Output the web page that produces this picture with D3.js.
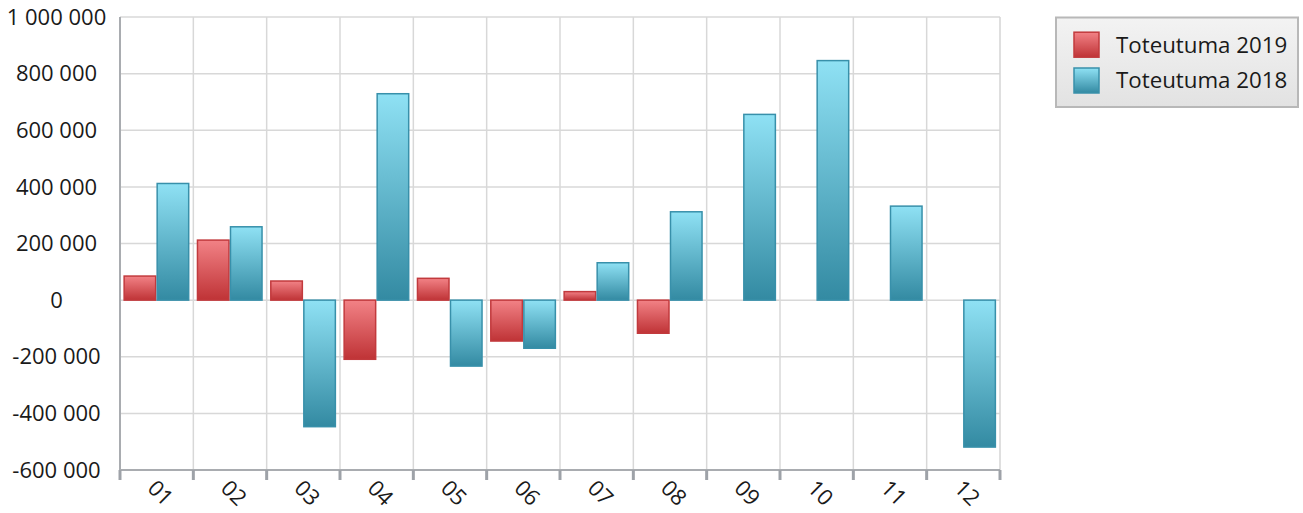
<!DOCTYPE html>
<html><head><meta charset="utf-8">
<script src="https://cdn.jsdelivr.net/npm/d3@7"></script>
<style>
html,body{margin:0;padding:0;background:#fff;}
text{font-family:"Open Sans",sans-serif;fill:#1a1a1a;}
</style></head>
<body>
<svg id="chart" width="1303" height="513"></svg>
<script>
const categories = ["01","02","03","04","05","06","07","08","09","10","11","12"];
const seriesNames = ["Toteutuma 2019","Toteutuma 2018"];
const values2019 = [85000, 212000, 67500, -209000, 77000, -144500, 30000, -117000, null, null, null, null];
const values2018 = [412000, 259000, -447000, 729000, -233000, -170000, 132000, 312000, 656000, 846000, 332000, -519000];
const yTicks = [-600000,-400000,-200000,0,200000,400000,600000,800000,1000000];

const svg = d3.select("#chart");
const m = {left:120, right:1000, top:17, bottom:470};

const defs = svg.append("defs");
function grad(id, c1, c2){
  const g = defs.append("linearGradient").attr("id",id).attr("x1",0).attr("y1",0).attr("x2",0).attr("y2",1);
  g.append("stop").attr("offset","0%").attr("stop-color",c1);
  g.append("stop").attr("offset","100%").attr("stop-color",c2);
}
grad("gRed","#f28286","#bf3336");
grad("gBlue","#8fe1f4","#338aa2");
grad("gLegend","#f3f3f3","#e2e2e2");
const fills = ["url(#gRed)","url(#gBlue)"];
const strokes = ["#c23a3d","#3890aa"];

const x0 = d3.scaleBand().domain(categories).range([m.left, m.right]).paddingInner(0).paddingOuter(0);
const x1 = d3.scaleBand().domain([0,1]).range([0, x0.bandwidth()]).paddingInner(0).paddingOuter(0.11);
const y = d3.scaleLinear().domain([-600000,1000000]).range([m.bottom, m.top]);

const loc = d3.formatLocale({decimal:",", thousands:" ", grouping:[3], currency:["","€"], minus:"-"});
const fmt = loc.format(",d");

// grid
const g = svg.append("g");
g.selectAll("line.h").data(yTicks).join("line")
  .attr("x1",m.left).attr("x2",m.right)
  .attr("y1",d=>y(d)).attr("y2",d=>y(d))
  .attr("stroke","#d8d8d8").attr("stroke-width",1.5);
g.selectAll("line.v").data(categories.slice(1)).join("line")
  .attr("x1",d=>x0(d)).attr("x2",d=>x0(d))
  .attr("y1",m.top).attr("y2",m.bottom)
  .attr("stroke","#d8d8d8").attr("stroke-width",1.5);
g.append("line").attr("x1",m.right).attr("x2",m.right).attr("y1",m.top).attr("y2",m.bottom)
  .attr("stroke","#d4d4d4").attr("stroke-width",1.5);

// bars
const series = [values2019, values2018];
series.forEach((vals, si) => {
  svg.append("g").selectAll("rect")
    .data(categories.map((c,i)=>({c, v:vals[i]})).filter(d=>d.v!==null))
    .join("rect")
    .attr("x", d=>x0(d.c)+x1(si)+0.5)
    .attr("width", x1.bandwidth()-1.5)
    .attr("y", d=>Math.min(y(d.v), y(0)))
    .attr("height", d=>Math.abs(y(d.v)-y(0)))
    .attr("fill", fills[si])
    .attr("stroke", strokes[si])
    .attr("stroke-width",1.5);
});

// y axis
const yAxis = svg.append("g");
yAxis.append("line").attr("x1",m.left).attr("x2",m.left).attr("y1",m.top).attr("y2",m.bottom)
  .attr("stroke","#a9acb0").attr("stroke-width",2);
yAxis.selectAll("text").data(yTicks).join("text")
  .attr("x",56.5).attr("y",d=>y(d)).attr("dy","0.35em")
  .attr("text-anchor","middle").attr("font-size",22)
  .text(d=>fmt(d));

// x axis
const xAxis = svg.append("g");
xAxis.append("line").attr("x1",m.left).attr("x2",m.right).attr("y1",m.bottom).attr("y2",m.bottom)
  .attr("stroke","#a9acb0").attr("stroke-width",2);
xAxis.selectAll("line.t").data(categories.map(c=>x0(c)).concat([m.right])).join("line")
  .attr("x1",d=>d).attr("x2",d=>d).attr("y1",m.bottom).attr("y2",m.bottom+10)
  .attr("stroke","#9ea2a8").attr("stroke-width",3);
xAxis.selectAll("text").data(categories).join("text")
  .attr("transform",d=>`translate(${x0(d)+x0.bandwidth()/2-5},${m.bottom+14}) rotate(45)`)
  .attr("dy","0.35em")
  .attr("text-anchor","start").attr("font-size",22)
  .text(d=>d);

// legend
const lg = svg.append("g");
lg.append("rect").attr("x",1056).attr("y",17.5).attr("width",242).attr("height",89.5)
  .attr("fill","url(#gLegend)").attr("stroke","#b8b8b8").attr("stroke-width",2);
seriesNames.forEach((s,i)=>{
  const cy = 44.7 + i*35.8;
  lg.append("rect").attr("x",1074).attr("y",cy-12.5).attr("width",25).attr("height",25)
    .attr("fill",fills[i]).attr("stroke",strokes[i]).attr("stroke-width",1.5);
  lg.append("text").attr("x",1116).attr("y",cy).attr("dy","0.35em")
    .attr("font-size",22.3).attr("fill","#333").text(s);
});
</script>
</body></html>
